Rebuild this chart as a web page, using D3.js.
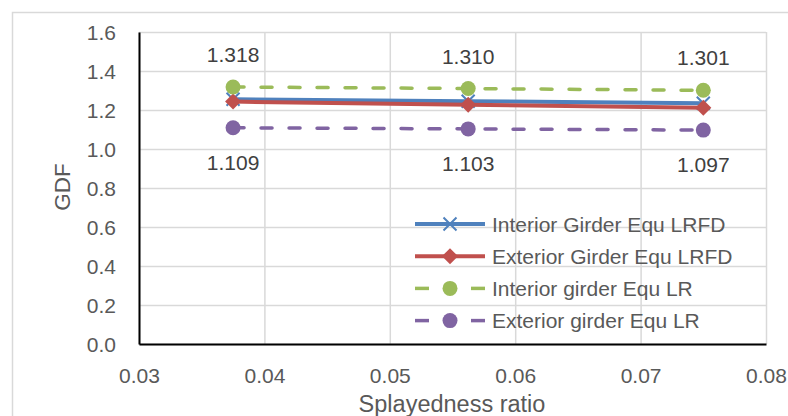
<!DOCTYPE html>
<html><head><meta charset="utf-8">
<script src="https://cdn.jsdelivr.net/npm/d3@7"></script>
<style>html,body{margin:0;padding:0;background:#fff;}svg{display:block;}</style>
</head><body>
<svg id="c" width="788" height="416"></svg>
<script>
const xValues = [0.0375, 0.05625, 0.075];
const interiorLRFD = [1.255, 1.245, 1.235];
const exteriorLRFD = [1.243, 1.227, 1.211];
const interiorLR = [1.318, 1.310, 1.301];
const exteriorLR = [1.109, 1.103, 1.097];
const seriesNames = ["Interior Girder Equ LRFD", "Exterior Girder Equ LRFD", "Interior girder Equ LR", "Exterior girder Equ LR"];
const xTicks = [0.03, 0.04, 0.05, 0.06, 0.07, 0.08];
const yTicks = [0, 0.2, 0.4, 0.6, 0.8, 1.0, 1.2, 1.4, 1.6];
const xTitle = "Splayedness ratio";
const yTitle = "GDF";

const series = [
  {name: seriesNames[0], values: interiorLRFD, color: "#4F81BD", dashed: false, marker: "x"},
  {name: seriesNames[1], values: exteriorLRFD, color: "#C0504D", dashed: false, marker: "diamond"},
  {name: seriesNames[2], values: interiorLR, color: "#9BBB59", dashed: true, marker: "circle", labels: "above"},
  {name: seriesNames[3], values: exteriorLR, color: "#8064A2", dashed: true, marker: "circle", labels: "below"}
];

const FONT = "'Liberation Sans', Arial, sans-serif";
const svg = d3.select("#c");
const L = 139, R = 766, T = 32, B = 344;
const x = d3.scaleLinear().domain([0.03, 0.08]).range([L, R]);
const y = d3.scaleLinear().domain([0, 1.6]).range([B, T]);

// chart border
svg.append("rect").attr("x", 12.5).attr("y", 12.5).attr("width", 800).attr("height", 420)
  .attr("fill", "#fff").attr("stroke", "#d9d9d9").attr("stroke-width", 1.5);

// gridlines
svg.append("g").attr("transform", `translate(0,${B})`)
  .call(d3.axisBottom(x).tickValues(xTicks).tickSize(-(B - T)).tickFormat(""))
  .call(g => g.select(".domain").remove())
  .call(g => g.selectAll("line").attr("stroke", "#d9d9d9").attr("stroke-width", 1.5));
svg.append("g").attr("transform", `translate(${L},0)`)
  .call(d3.axisLeft(y).tickValues(yTicks).tickSize(-(R - L)).tickFormat(""))
  .call(g => g.select(".domain").remove())
  .call(g => g.selectAll("line").attr("stroke", "#d9d9d9").attr("stroke-width", 1.5));

// axes with labels
const xAxis = svg.append("g").attr("transform", `translate(0,${B})`)
  .call(d3.axisBottom(x).tickValues(xTicks).tickSize(0).tickPadding(24).tickFormat(d3.format(".2f")));
const yAxis = svg.append("g").attr("transform", `translate(${L},0)`)
  .call(d3.axisLeft(y).tickValues(yTicks).tickSize(0).tickPadding(23).tickFormat(d3.format(".1f")));
[xAxis, yAxis].forEach(a => {
  a.select(".domain").attr("stroke", "#000").attr("stroke-width", 2);
  a.selectAll("text").attr("font-family", FONT).attr("font-size", 21).attr("fill", "#595959");
});
yAxis.selectAll("text").attr("dy", "0.35em");

// axis titles
svg.append("text").attr("x", 452).attr("y", 412).attr("text-anchor", "middle")
  .attr("font-family", FONT).attr("font-size", 23.5).attr("fill", "#595959").text(xTitle);
svg.append("text").attr("transform", "translate(70,187) rotate(-90)").attr("text-anchor", "middle")
  .attr("font-family", FONT).attr("font-size", 22.5).attr("fill", "#595959").text(yTitle);

function drawMarker(g, type, cx, cy, color) {
  if (type === "circle") {
    g.append("circle").attr("cx", cx).attr("cy", cy).attr("r", 7.5).attr("fill", color);
  } else if (type === "diamond") {
    const s = 8;
    g.append("path").attr("d", `M${cx},${cy - s}L${cx + s},${cy}L${cx},${cy + s}L${cx - s},${cy}Z`).attr("fill", color);
  } else {
    const s = 6.5;
    g.append("path").attr("d", `M${cx - s},${cy - s}L${cx + s},${cy + s}M${cx - s},${cy + s}L${cx + s},${cy - s}`)
      .attr("stroke", color).attr("stroke-width", 2).attr("fill", "none");
  }
}

const line = d3.line().x((d, i) => x(xValues[i])).y(d => y(d));
series.forEach(s => {
  const g = svg.append("g");
  g.append("path").datum(s.values).attr("d", line).attr("fill", "none").attr("stroke", s.color)
    .attr("stroke-width", s.dashed ? 3.5 : 4)
    .attr("stroke-dasharray", s.dashed ? "11,17" : null)
    .attr("stroke-linecap", s.dashed ? "round" : "butt");
  s.values.forEach((v, i) => drawMarker(g, s.marker, x(xValues[i]), y(v), s.color));
  if (s.labels) {
    s.values.forEach((v, i) => {
      svg.append("text").attr("x", x(xValues[i])).attr("y", y(v) + (s.labels === "above" ? -25 : 42))
        .attr("text-anchor", "middle").attr("font-family", FONT).attr("font-size", 21).attr("fill", "#404040")
        .text(d3.format(".3f")(v));
    });
  }
});

// legend
const legend = svg.append("g");
series.forEach((s, i) => {
  const cy = 224 + i * 32.2;
  const g = legend.append("g");
  if (s.dashed) {
    g.append("line").attr("x1", 415).attr("x2", 429).attr("y1", cy).attr("y2", cy).attr("stroke", s.color).attr("stroke-width", 3.5);
    g.append("line").attr("x1", 471).attr("x2", 485).attr("y1", cy).attr("y2", cy).attr("stroke", s.color).attr("stroke-width", 3.5);
  } else {
    g.append("line").attr("x1", 415).attr("x2", 485).attr("y1", cy).attr("y2", cy).attr("stroke", s.color).attr("stroke-width", 4);
  }
  drawMarker(g, s.marker, 450, cy, s.color);
  g.append("text").attr("x", 492).attr("y", cy).attr("dy", "0.36em").attr("font-family", FONT)
    .attr("font-size", 21).attr("fill", "#595959").text(s.name);
});
</script>
</body></html>
